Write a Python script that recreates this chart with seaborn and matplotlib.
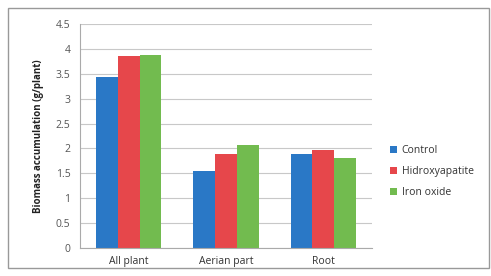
import pandas as pd
import seaborn as sns
import matplotlib.pyplot as plt
from matplotlib.patches import Rectangle

# Chart data
parts = ['All plant', 'Aerian part', 'Root']
treatments = ['Control', 'Hidroxyapatite', 'Iron oxide']
control = [3.43, 1.55, 1.88]
hidroxyapatite = [3.85, 1.88, 1.97]
iron_oxide = [3.88, 2.07, 1.80]
yticks = [0, 0.5, 1, 1.5, 2, 2.5, 3, 3.5, 4, 4.5]
colors = ['#2a78c6', '#e6474b', '#72bb4f']

# Long-form table for seaborn
rows = []
for name, vals in zip(treatments, [control, hidroxyapatite, iron_oxide]):
    for p, v in zip(parts, vals):
        rows.append({'Part': p, 'Treatment': name, 'Biomass': v})
df = pd.DataFrame(rows)

sns.set_style('white')
plt.rcParams['font.family'] = ['Open Sans', 'DejaVu Sans']

fig = plt.figure(figsize=(4.91, 2.76), dpi=100)
ax = fig.add_axes([80 / 491, 28 / 276, 292 / 491, 224 / 276])

sns.barplot(data=df, x='Part', y='Biomass', hue='Treatment', palette=colors,
            width=0.67, gap=0, ax=ax, saturation=1, linewidth=0)

ax.set_ylim(0, 4.5)
ax.set_yticks(yticks)
ax.set_yticklabels([f'{t:g}' for t in yticks], fontsize=7.5, color='#555555')
ax.set_xticks([0.5, 1.5], minor=True)
ax.tick_params(axis='x', which='major', labelsize=7.5, colors='#333333', length=0, pad=6)
ax.tick_params(axis='x', which='minor', length=3, color='#aaaaaa')
ax.tick_params(axis='y', length=3, color='#aaaaaa', pad=4)
ax.yaxis.grid(True, color='#c8c8c8', linewidth=0.8)
ax.set_axisbelow(True)
for s in ['top', 'right']:
    ax.spines[s].set_visible(False)
ax.spines['left'].set_color('#aaaaaa')
ax.spines['bottom'].set_color('#aaaaaa')
ax.set_xlabel('')
ax.set_ylabel('Biomass accumulation (g/plant)', fontsize=7, fontweight='bold',
              color='#222222', labelpad=8)

leg = ax.legend(loc='center left', bbox_to_anchor=(1.03, 0.34), frameon=False,
                fontsize=7.5, handlelength=0.7, handleheight=0.7,
                handletextpad=0.4, labelspacing=0.95)
for t in leg.get_texts():
    t.set_color('#333333')

# outer chart border
fig.patches.append(Rectangle((8 / 491, 8 / 276), 481 / 491, 260 / 276,
                             transform=fig.transFigure, fill=False,
                             edgecolor='#999999', linewidth=1))

fig.savefig('out.png', dpi=100)
